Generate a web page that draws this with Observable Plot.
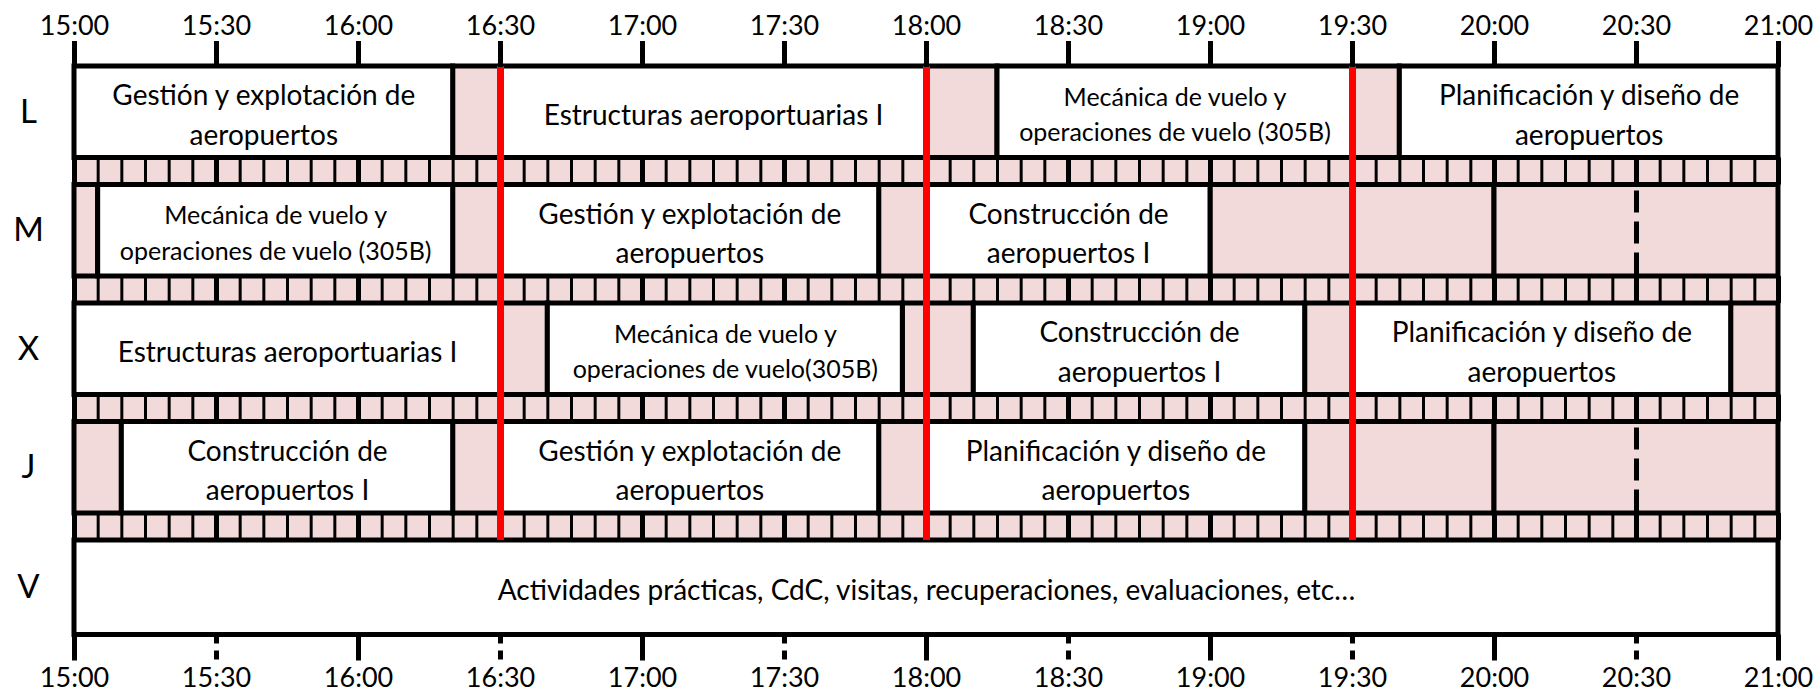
<!DOCTYPE html>
<html>
<head>
<meta charset="utf-8">
<script src="https://cdn.jsdelivr.net/npm/d3@7"></script>
<script src="https://cdn.jsdelivr.net/npm/@observablehq/plot@0.6"></script>
<style>
  html, body { margin: 0; padding: 0; background: #fff; }
  svg { display: block; }
</style>
</head>
<body>
<div id="chart"></div>
<script>
// ---------- data ----------
const days = ["L", "M", "X", "J", "V"];
const axisTicks = ["15:00","15:30","16:00","16:30","17:00","17:30","18:00","18:30","19:00","19:30","20:00","20:30","21:00"];

const classDay   = ["L","L","L","L", "M","M","M", "X","X","X","X", "J","J","J", "V"];
const classStart = ["15:00","16:30","18:15","19:40", "15:05","16:30","18:00", "15:00","16:40","18:10","19:30", "15:10","16:30","18:00", "15:00"];
const classEnd   = ["16:20","18:00","19:30","21:00", "16:20","17:50","19:00", "16:30","17:55","19:20","20:50", "16:20","17:50","19:20", "21:00"];
const classLabel = [
  "Gestión y explotación de\naeropuertos",
  "Estructuras aeroportuarias I",
  "Mecánica de vuelo y\noperaciones de vuelo (305B)",
  "Planificación y diseño de\naeropuertos",
  "Mecánica de vuelo y\noperaciones de vuelo (305B)",
  "Gestión y explotación de\naeropuertos",
  "Construcción de\naeropuertos I",
  "Estructuras aeroportuarias I",
  "Mecánica de vuelo y\noperaciones de vuelo(305B)",
  "Construcción de\naeropuertos I",
  "Planificación y diseño de\naeropuertos",
  "Construcción de\naeropuertos I",
  "Gestión y explotación de\naeropuertos",
  "Planificación y diseño de\naeropuertos",
  "Actividades prácticas, CdC, visitas, recuperaciones, evaluaciones, etc…"
];

const breakDay   = ["L","L","L", "M","M","M","M","M", "X","X","X","X", "J","J","J","J","J"];
const breakStart = ["16:20","18:00","19:30", "15:00","16:20","17:50","19:00","20:00", "16:30","17:55","19:20","20:50", "15:00","16:20","17:50","19:20","20:00"];
const breakEnd   = ["16:30","18:15","19:40", "15:05","16:30","18:00","20:00","21:00", "16:40","18:10","19:30","21:00", "15:10","16:30","18:00","20:00","21:00"];

const dashedDay  = ["M","J"];
const dashedTime = ["20:30","20:30"];

const redLineTimes = ["16:30","18:00","19:30"];

// ---------- helpers & layout ----------
const toMin = s => { const [h, m] = s.split(":").map(Number); return h * 60 + m; };
const fmt = m => `${Math.floor(m / 60)}:${String(m % 60).padStart(2, "0")}`;
const dayIndex = d => days.indexOf(d);
const ROW = 91.5 / 118.5;          // main row height (in day units)
const ROW_V = 94.5 / 118.5;        // last row slightly taller
const rowBottom = d => dayIndex(d) + (d === "V" ? ROW_V : ROW);
const PINK = "#f2dada";
const t0 = toMin(axisTicks[0]);
const t1 = toMin(axisTicks[axisTicks.length - 1]);

const classes = classDay.map((d, i) => ({
  day: d, x1: toMin(classStart[i]), x2: toMin(classEnd[i]), label: classLabel[i]
}));
const breaks = breakDay.map((d, i) => ({
  day: d, x1: toMin(breakStart[i]), x2: toMin(breakEnd[i])
}));
const dashed = dashedDay.map((d, i) => ({ day: d, x: toMin(dashedTime[i]) }));
const reds = redLineTimes.map(toMin);

// gap strips between consecutive days
const gaps = days.slice(0, -1).map(d => ({ y1: rowBottom(d), y2: dayIndex(d) + 1 }));
const gridMinutes = d3.range(t0, t1 + 1, 5);
const gridRules = gaps.flatMap(g => gridMinutes.map(m => ({ x: m, y1: g.y1, y2: g.y2 })));

const tickMins = axisTicks.map(toMin);
const hourTicks = tickMins.filter(m => m % 60 === 0);
const halfTicks = tickMins.filter(m => m % 60 !== 0);

const chart = Plot.plot({
  width: 1819,
  height: 695,
  marginTop: 66,
  marginBottom: 60.5,
  marginLeft: 74,
  marginRight: 41,
  style: { fontFamily: "Lato, 'Noto Sans', sans-serif", fontSize: "27px", color: "#000", background: "#fff" },
  x: { domain: [t0, t1] },
  y: { domain: [0, 4 + ROW_V], reverse: true, axis: null },
  marks: [
    // gap strips
    Plot.rect(gaps, { x1: t0, x2: t1, y1: "y1", y2: "y2", fill: PINK }),
    Plot.ruleX(gridRules.filter(r => r.x % 30 !== 0), { x: "x", y1: "y1", y2: "y2", stroke: "#000", strokeWidth: 3 }),
    Plot.ruleX(gridRules.filter(r => r.x % 30 === 0), { x: "x", y1: "y1", y2: "y2", stroke: "#000", strokeWidth: 5 }),
    // breaks and classes
    Plot.rect(breaks, { x1: "x1", x2: "x2", y1: d => dayIndex(d.day), y2: d => rowBottom(d.day), fill: PINK, stroke: "#000", strokeWidth: 5 }),
    Plot.rect(classes, { x1: "x1", x2: "x2", y1: d => dayIndex(d.day), y2: d => rowBottom(d.day), fill: "#fff", stroke: "#000", strokeWidth: 5 }),
    // dashed half-hour lines in empty afternoons
    Plot.ruleX(dashed, { x: "x", y1: d => dayIndex(d.day), y2: d => rowBottom(d.day), stroke: "#000", strokeWidth: 5, strokeDasharray: "22,9", strokeDashoffset: -6 }),
    // red markers
    Plot.ruleX(reds, { y1: 0, y2: 4, stroke: "#ff0000", strokeWidth: 7 }),
    // class labels
    Plot.text(classes, {
      x: d => (d.x1 + d.x2) / 2,
      y: d => dayIndex(d.day) + (d.day === "V" ? ROW_V : ROW) / 2,
      text: "label",
      fontSize: d => d.label.includes("305B") ? 25 : 28,
      lineHeight: 1.42,
      fill: "#000"
    }),
    // day labels
    Plot.text(days, {
      y: d => dayIndex(d) + (d === "V" ? ROW_V : ROW) / 2,
      frameAnchor: "left",
      dx: -46,
      text: d => d,
      fontSize: 33,
      textAnchor: "middle",
      fill: "#000"
    }),
    // axes
    Plot.axisX(tickMins, { anchor: "top", tickSize: 26, tickPadding: 6, strokeWidth: 5, tickFormat: fmt, fontSize: 27 }),
    Plot.axisX(hourTicks, { anchor: "bottom", tickSize: 26, tickPadding: 7, strokeWidth: 5, tickFormat: fmt, fontSize: 27 }),
    Plot.axisX(halfTicks, { anchor: "bottom", tickSize: 26, tickPadding: 7, strokeWidth: 5, strokeDasharray: "9,7", tickFormat: fmt, fontSize: 27 })
  ]
});

document.getElementById("chart").appendChild(chart);
</script>
</body>
</html>
